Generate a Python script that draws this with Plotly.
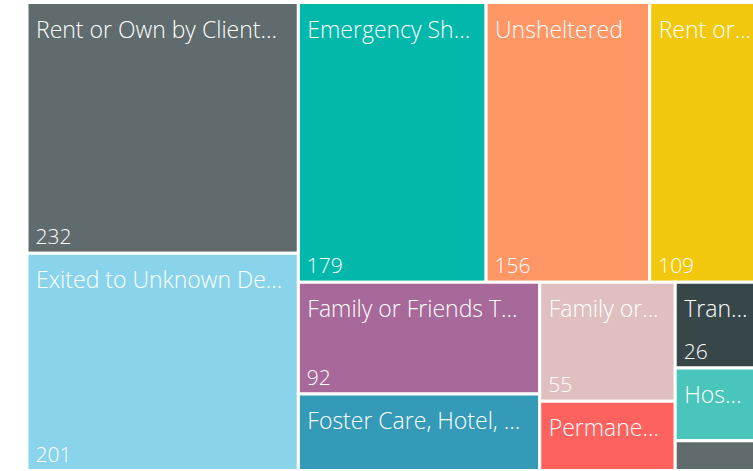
import plotly.graph_objects as go

# ---- data ----
categories = [
    "Rent or Own by Client, No Subsidy",
    "Exited to Unknown Destination",
    "Emergency Shelter",
    "Unsheltered",
    "Rent or Own by Client, With Subsidy",
    "Family or Friends Temporary",
    "Foster Care, Hotel, or Other",
    "Family or Friends Permanent",
    "Permanent Housing",
    "Transitional Housing",
    "Hospital or Treatment",
    "Other",
]
display_labels = [
    "Rent or Own by Client...",
    "Exited to Unknown De...",
    "Emergency Sh...",
    "Unsheltered",
    "Rent or...",
    "Family or Friends T...",
    "Foster Care, Hotel, ...",
    "Family or...",
    "Permane...",
    "Tran...",
    "Hos...",
    "",
]
values = [232, 201, 179, 156, 109, 92, 63, 55, 32, 26, 22, 9]
show_value = [True, True, True, True, True, True, False, True, False, True, False, False]
colors = [
    "#5F6B6D", "#8AD4EB", "#01B8AA", "#FE9666", "#F2C80F", "#A66999",
    "#3599B8", "#DFBFBF", "#FD625E", "#374649", "#4AC5BB", "#5F6B6D",
]

FIG_W, FIG_H = 780, 482
NB = "\u00a0"
label_text = [(NB + t) if t else "" for t in display_labels]
value_text = [(NB + str(v)) if s else "" for v, s in zip(values, show_value)]
parents = [""] * len(categories)
n = len(values)


def dom(top_px, bottom_px):
    return [1 - bottom_px / FIG_H, 1 - top_px / FIG_H]


dom_x = [27 / FIG_W, 764 / FIG_W]
TOP, BOT = 2.5, 470.5
LABEL_SHIFT = 7
common = dict(
    labels=categories, parents=parents, values=values, sort=True,
    tiling=dict(packing="squarify", squarifyratio=1.618, pad=0),
    pathbar=dict(visible=False),
)
label_font = dict(family="Open Sans, sans-serif", size=23, color="white", weight=300)
value_font = dict(family="Open Sans, sans-serif", size=21, color="white", weight=300)

fig = go.Figure()
# coloured cells
fig.add_trace(go.Treemap(
    **common,
    texttemplate=" ", textinfo="none",
    marker=dict(colors=colors, line=dict(color="white", width=3),
                pad=dict(t=0, l=0, r=0, b=0)),
    domain=dict(x=dom_x, y=dom(TOP, BOT)),
    hovertemplate="%{label}: %{value}<extra></extra>",
))
# values, bottom-left
fig.add_trace(go.Treemap(
    **common,
    text=value_text, texttemplate="%{text}", textposition="bottom left",
    textfont=value_font,
    marker=dict(colors=["rgba(0,0,0,0)"] * n, line=dict(width=0),
                pad=dict(t=0, l=0, r=0, b=0)),
    domain=dict(x=dom_x, y=dom(TOP, BOT)),
    hoverinfo="skip",
))
# labels, top-left
fig.add_trace(go.Treemap(
    **common,
    text=label_text, texttemplate="%{text}", textposition="top left",
    textfont=label_font,
    marker=dict(colors=["rgba(0,0,0,0)"] * n, line=dict(width=0),
                pad=dict(t=0, l=0, r=0, b=0)),
    domain=dict(x=dom_x, y=dom(TOP + LABEL_SHIFT, BOT + LABEL_SHIFT)),
    hoverinfo="skip",
))
fig.update_layout(
    width=FIG_W, height=FIG_H,
    margin=dict(l=0, r=0, t=0, b=0),
    paper_bgcolor="white",
    showlegend=False,
)
fig.write_html(
    "out.html",
    config={"displayModeBar": False},
    post_script="document.body.style.margin='0';document.body.style.overflow='hidden';document.documentElement.style.overflow='hidden';",
)
